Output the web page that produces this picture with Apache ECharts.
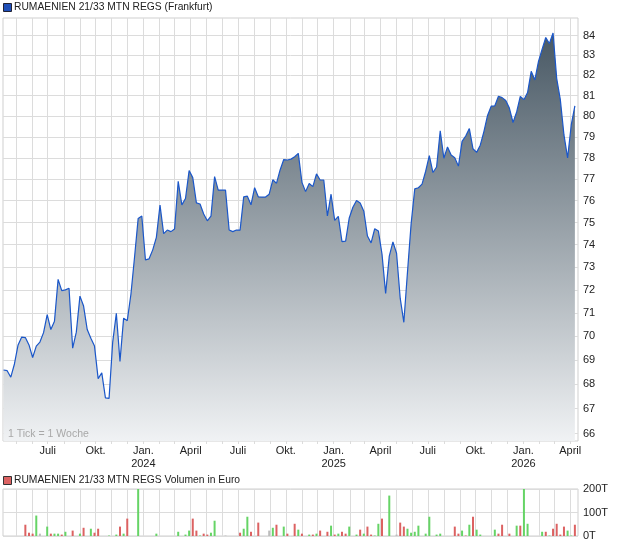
<!DOCTYPE html>
<html><head><meta charset="utf-8">
<script src="https://cdn.jsdelivr.net/npm/echarts@6/dist/echarts.min.js"></script>
<style>html,body{margin:0;padding:0;background:#fff}#c{width:620px;height:546px}</style>
</head><body><div id="c"></div>
<script>
// ---- data (weekly, first week = 2023-04-07) ----
const priceStart = [2023, 3, 7];
const priceValues = [
68.59,68.56,68.29,68.84,69.64,69.97,69.95,69.64,69.11,69.59,
69.76,70.16,70.93,70.29,70.65,72.46,71.97,72.0,72.07,69.5,
70.18,71.73,71.30,70.29,69.92,69.59,68.23,68.47,67.44,67.42,
69.76,70.99,68.95,70.78,70.67,71.8,73.44,75.19,75.3,73.32,
73.37,73.77,74.33,75.8,74.5,74.66,74.59,74.71,76.9,75.81,
76.1,77.4,77.07,75.9,75.85,75.39,75.08,75.29,77.12,76.49,
76.49,76.49,74.66,74.59,74.66,74.66,76.18,76.21,75.81,76.6,
76.18,76.17,76.17,76.3,76.97,76.8,77.43,77.92,77.9,77.94,
78.05,78.21,76.85,76.42,76.8,76.65,77.25,76.96,76.96,75.3,
76.3,75.1,75.28,74.14,74.16,75.21,75.7,76.01,75.9,75.52,
74.39,74.08,74.72,74.62,73.58,71.85,73.49,74.13,73.62,71.64,
70.6,72.78,74.94,76.55,76.6,76.77,77.37,78.11,77.31,77.57,
79.29,77.98,78.52,78.13,78.01,77.61,78.78,79.04,79.4,78.43,
78.26,78.6,79.25,80.03,80.48,80.5,80.97,80.9,80.76,80.39,
79.69,80.2,80.96,80.8,81.15,82.2,81.77,82.7,83.31,83.9,
83.6,84.13,81.85,80.8,79.09,78.0,79.57,80.5
];
const volWeeks = [6,7,8,9,10,12,13,14,15,16,17,19,21,22,24,25,26,29,31,32,33,34,37,42,48,50,51,52,53,54,55,56,57,58,61,65,66,67,68,70,73,74,75,77,78,80,81,82,84,85,86,87,89,90,91,92,93,94,95,97,98,99,100,101,102,103,104,106,108,109,110,111,112,113,114,116,117,119,120,124,125,126,127,128,129,130,131,135,136,137,139,141,142,143,144,148,149,150,151,152,153,154,155,156,157];
const volValues = [48,14,10,87,10,40,10,10,10,6,18,23,10,35,31,14,31,2,6,40,10,74,200,10,18,6,23,74,23,2,10,6,14,65,2,14,31,82,18,57,23,35,48,40,10,52,27,10,6,6,10,23,18,44,6,10,18,10,40,6,27,10,40,6,2,52,74,172,6,57,40,31,14,18,44,10,82,6,10,40,10,23,2,48,82,27,6,27,10,48,10,44,44,200,52,18,18,2,31,52,6,40,23,2,48];
const volDir = [-1,-1,-1,1,0,1,-1,1,1,-1,1,-1,1,-1,1,-1,-1,1,1,-1,1,-1,1,1,1,1,1,-1,-1,1,-1,-1,1,1,0,-1,1,1,-1,-1,0,1,-1,1,-1,-1,1,-1,1,-1,1,-1,-1,1,-1,1,-1,-1,1,1,-1,1,-1,-1,1,1,-1,1,0,-1,-1,1,1,1,1,1,1,1,1,-1,-1,1,-1,1,-1,1,1,1,-1,-1,-1,1,-1,1,1,1,-1,1,-1,-1,-1,-1,1,1,-1];
const yTicks = [66,67,68,69,70,71,72,73,74,75,76,77,78,79,80,81,82,83,84];
const xTickLabels = ['Juli','Okt.','Jan.\n2024','April','Juli','Okt.','Jan.\n2025','April','Juli','Okt.','Jan.\n2026','April'];
const volTickLabels = {0:'0T',100:'100T',200:'200T'};

// ---- chart ----
const FONT = "'Liberation Sans', Arial, sans-serif";
const weekDate = k => new Date(priceStart[0], priceStart[1], priceStart[2] + 7 * k).getTime();
const xMin = new Date(2023, 3, 6).getTime();
const xMax = new Date(2026, 3, 16).getTime();
const monthTicks = []; for (let i = 0; i < 36; i++) monthTicks.push(new Date(2023, 4 + i, 1).getTime());
const quarterTicks = []; for (let j = 0; j < 12; j++) quarterTicks.push(new Date(2023, 6 + 3 * j, 1).getTime());
const dirColor = {'1': '#66d466', '-1': '#dc6262', '0': '#bdbdbd'};
const GRID = '#dcdcdc';

const chart = echarts.init(document.getElementById('c'));
const option = {
  animation: false,
  textStyle: {fontFamily: FONT},
  grid: [
    {left: 3, right: 42, top: 18, bottom: 105, show: true, borderColor: '#cfcfcf', borderWidth: 1},
    {left: 3, right: 42, top: 489, bottom: 10, show: true, borderColor: '#cfcfcf', borderWidth: 1}
  ],
  xAxis: [
    {type: 'value', gridIndex: 0, min: xMin, max: xMax, scale: true,
     axisLine: {show: false},
     axisTick: {show: true, customValues: monthTicks, length: 3, lineStyle: {color: '#dcdcdc'}},
     splitLine: {show: true, lineStyle: {color: GRID, width: 1}},
     axisLabel: {customValues: quarterTicks, fontSize: 11, color: '#222', margin: 3, lineHeight: 13,
       formatter: v => { const i = quarterTicks.indexOf(v); return i >= 0 ? xTickLabels[i] : ''; }}},
    {type: 'value', gridIndex: 1, min: xMin, max: xMax, scale: true,
     axisLine: {show: false},
     axisTick: {show: false, customValues: monthTicks},
     splitLine: {show: true, lineStyle: {color: GRID, width: 1}},
     axisLabel: {show: false}}
  ],
  yAxis: [
    {type: 'log', gridIndex: 0, min: 65.7, max: 84.9, position: 'right',
     axisLine: {show: false}, axisTick: {show: false}, axisLabel: {show: false}, splitLine: {show: false}},
    {type: 'value', gridIndex: 1, min: 0, max: 200, interval: 100, position: 'right',
     axisLine: {show: false}, axisTick: {show: false},
     splitLine: {show: true, lineStyle: {color: GRID}},
     axisLabel: {fontSize: 11, color: '#222', margin: 5, formatter: v => volTickLabels[v]}}
  ],
  series: [
    {type: 'line', xAxisIndex: 0, yAxisIndex: 0, z: 1, data: [], silent: true,
     markLine: {silent: true, symbol: 'none', animation: false, z: 1,
       lineStyle: {color: GRID, type: 'solid', width: 1},
       label: {position: 'end', formatter: '{b}', color: '#222', fontSize: 11, distance: 5, fontFamily: FONT},
       data: yTicks.map(v => ({yAxis: v, name: String(v)}))}},
    {type: 'line', xAxisIndex: 0, yAxisIndex: 0, z: 3, showSymbol: false, symbol: 'none',
     data: priceValues.map((v, k) => [weekDate(k), v]),
     lineStyle: {color: '#1b57c9', width: 1.2},
     areaStyle: {origin: 'start', opacity: 1, color: new echarts.graphic.LinearGradient(0, 0, 0, 1, [
       {offset: 0, color: '#485864'}, {offset: 1, color: '#f0f2f4'}])}},
    {type: 'bar', xAxisIndex: 1, yAxisIndex: 1, barWidth: 2,
     data: volWeeks.map((k, i) => ({value: [weekDate(k), volValues[i]], itemStyle: {color: dirColor[String(volDir[i])]}}))}
  ],
  graphic: [
    {type: 'rect', z: 100, left: 3, top: 3, shape: {width: 8, height: 8}, style: {fill: '#1f4fb8', stroke: '#223', lineWidth: 1}},
    {type: 'text', z: 100, left: 14, top: 2, style: {text: 'RUMAENIEN 21/33 MTN REGS (Frankfurt)', font: "10.3px 'Liberation Sans', Arial", fill: '#222'}},
    {type: 'text', z: 100, left: 8, top: 429, style: {text: '1 Tick = 1 Woche', font: "10.5px 'Liberation Sans', Arial", fill: '#a8a8a8'}},
    {type: 'rect', z: 100, left: 3, top: 476, shape: {width: 8, height: 8}, style: {fill: '#dc6262', stroke: '#333', lineWidth: 1}},
    {type: 'text', z: 100, left: 14, top: 475, style: {text: 'RUMAENIEN 21/33 MTN REGS Volumen in Euro', font: "10.3px 'Liberation Sans', Arial", fill: '#222'}}
  ]
};
chart.setOption(option);
</script></body></html>
